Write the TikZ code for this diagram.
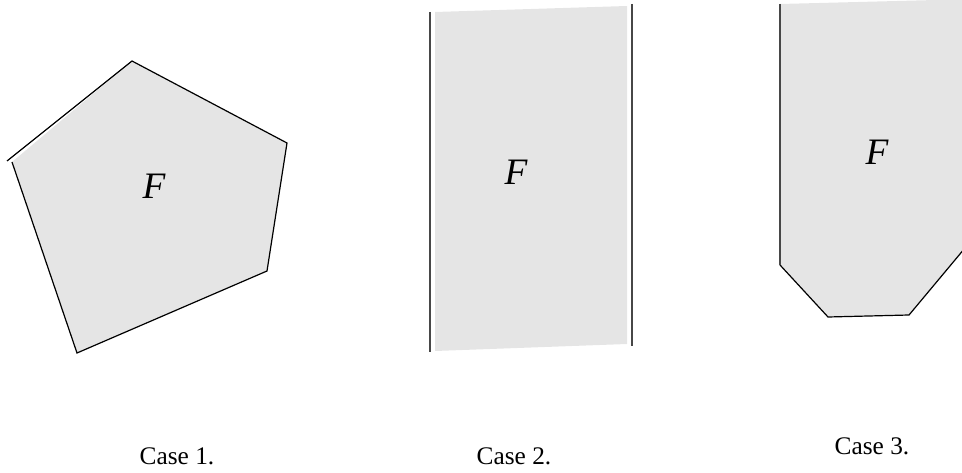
\documentclass[tikz,border=0pt]{standalone}
\usepackage{fontspec}
\setmainfont{Liberation Serif}
\begin{document}
\begin{tikzpicture}[x=0.75pt,y=-0.75pt,
  face/.style={fill=black!10,draw=none},
  edge/.style={draw=black,line width=0.9pt},
  bound/.style={draw=black!72,line width=1.5pt},
  flabel/.style={font=\fontsize{28}{30}\selectfont\itshape},
  caption/.style={font=\fontsize{19}{22}\selectfont}]
\useasboundingbox (0,0) rectangle (962,473);
% Case 1
\fill[face] (12,162) -- (132,61) -- (287,143) -- (267,271) -- (77,353) -- cycle;
\draw[edge] (7,161) -- (132,61) -- (287,143) -- (267,271) -- (77,353) -- (12,162);
\node[flabel] (f1) at (154,186) {F};
\node[caption] (c1) at (177,456) {Case 1.};
% Case 2
\fill[face] (435,12) -- (627,6) -- (627,344) -- (435,351) -- cycle;
\draw[bound] (430,12) -- (430,352);
\draw[bound] (631.5,4) -- (631.5,346);
\node[flabel] (f2) at (516,172) {F};
\node[caption] (c2) at (514,456) {Case 2.};
% Case 3
\begin{scope}
\clip (0,0) rectangle (962,473);
\fill[face] (780,4) -- (975,-1) -- (975,236) -- (909,315) -- (828,317) -- (780,265) -- cycle;
\draw[edge] (780,265) -- (828,317) -- (909,315) -- (975,236);
\draw[bound] (780,4) -- (780,265);
\end{scope}
\node[flabel] (f3) at (877,152) {F};
\node[caption] (c3) at (872,446) {Case 3.};
\end{tikzpicture}
\end{document}
